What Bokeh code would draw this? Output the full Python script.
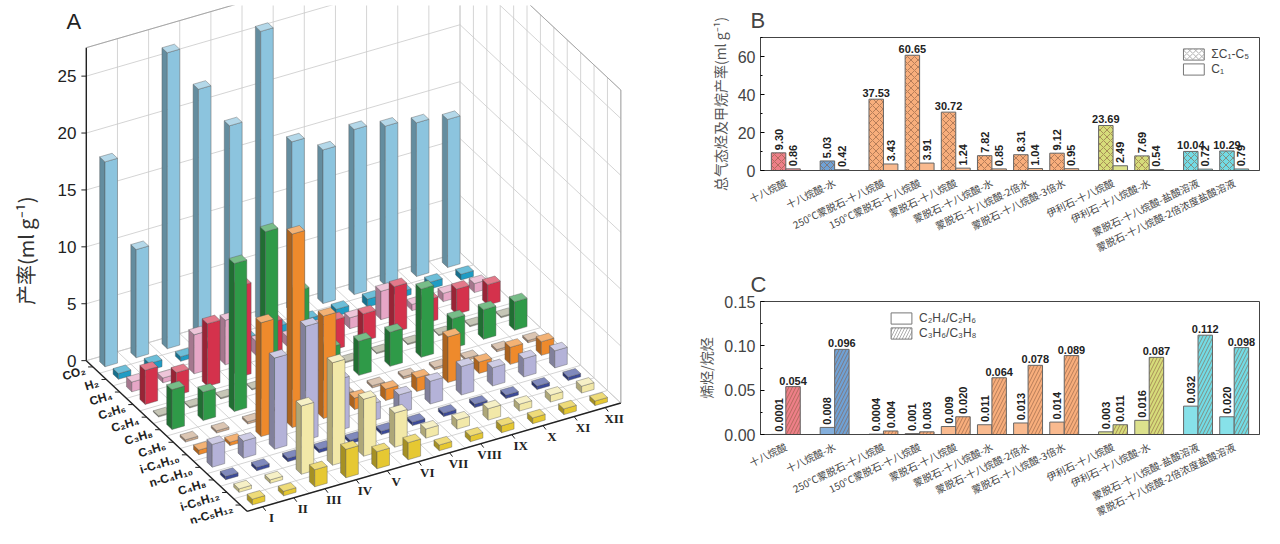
import numpy as np
from bokeh.plotting import figure
from bokeh.layouts import row, column
from bokeh.models import Range1d, FixedTicker, Legend, LegendItem, ColumnDataSource
from bokeh.embed import file_html
from bokeh.resources import INLINE
from bokeh.core.properties import value

# ---------------- data ----------------
exp_roman = ["I", "II", "III", "IV", "V", "VI", "VII", "VIII", "IX", "X", "XI", "XII"]
gases = ["CO₂", "H₂", "CH₄", "C₂H₆", "C₂H₄", "C₃H₈", "C₃H₆", "i-C₄H₁₀", "n-C₄H₁₀", "C₄H₈", "i-C₅H₁₂", "n-C₅H₁₂"]
gas_colors = ["#8cc4de", "#1f9cc4", "#e6a6c6", "#d4324c", "#a8a890", "#2f9a48", "#c8a68a",
              "#ee8a2c", "#b4b2d8", "#3c4a98", "#f2e8a8", "#e6c832"]
co2 = [18, 9.5, 26, 22, 18, 25.5, 15, 13.5, 14.5, 14, 13.5, 13]
h2 = [0.5, 0.6, 0.4, 0.5, 0.4, 0.6, 0.5, 0.6, 0.7, 0.5, 0.6, 0.5]
ch4 = [0.86, 0.42, 3.43, 3.91, 1.24, 0.85, 1.04, 0.95, 2.49, 0.54, 0.72, 0.79]
c2h6 = [3.0, 2.0, 5.5, 8.0, 4.0, 2.5, 2.6, 2.4, 4.0, 2.0, 2.2, 1.8]
c2h4 = [0.1, 0.1, 0.1, 0.1, 0.1, 0.1, 0.1, 0.1, 0.1, 0.1, 0.1, 0.1]
c3h8 = [3.5, 2.5, 13, 15, 9, 3.2, 3.0, 3.0, 6.0, 2.6, 2.6, 2.5]
c3h6 = [0.2, 0.2, 0.2, 0.2, 0.2, 0.2, 0.2, 0.2, 0.2, 0.2, 0.2, 0.2]
ic4 = [0.4, 0.3, 10, 17, 9, 1.0, 1.0, 1.2, 4.0, 1.0, 1.5, 1.2]
nc4 = [2.0, 1.5, 8, 10, 4.5, 1.5, 1.6, 2.0, 2.5, 1.6, 1.6, 1.5]
c4h8 = [0.3, 0.3, 0.3, 0.3, 0.3, 0.3, 0.3, 0.3, 0.3, 0.3, 0.3, 0.3]
ic5 = [0.3, 0.3, 6.0, 9.0, 5.0, 3.0, 0.8, 0.8, 1.0, 0.6, 0.6, 0.6]
nc5 = [0.5, 0.4, 1.5, 2.5, 1.5, 1.5, 0.5, 0.5, 0.6, 0.5, 0.5, 0.4]
yields = [co2, h2, ch4, c2h6, c2h4, c3h8, c3h6, ic4, nc4, c4h8, ic5, nc5]
z_ticks = [0, 5, 10, 15, 20, 25]

cats = ["十八烷酸", "十八烷酸-水", "250°C蒙脱石-十八烷酸", "150°C蒙脱石-十八烷酸", "蒙脱石-十八烷酸",
        "蒙脱石-十八烷酸-水", "蒙脱石-十八烷酸-2倍水", "蒙脱石-十八烷酸-3倍水", "伊利石-十八烷酸",
        "伊利石-十八烷酸-水", "蒙脱石-十八烷酸-盐酸溶液", "蒙脱石-十八烷酸-2倍浓度盐酸溶液"]
total_c1c5 = [9.30, 5.03, 37.53, 60.65, 30.72, 7.82, 8.31, 9.12, 23.69, 7.69, 10.04, 10.29]
c1 = [0.86, 0.42, 3.43, 3.91, 1.24, 0.85, 1.04, 0.95, 2.49, 0.54, 0.72, 0.79]
ratio_c2 = [0.0001, 0.008, 0.0004, 0.001, 0.009, 0.011, 0.013, 0.014, 0.003, 0.016, 0.032, 0.020]
ratio_c3 = [0.054, 0.096, 0.004, 0.003, 0.020, 0.064, 0.078, 0.089, 0.011, 0.087, 0.112, 0.098]
group_colors = ["#ee7f88", "#6fa2d6", "#f8ae7c", "#f8ae7c", "#f8ae7c", "#f8ae7c", "#f8ae7c", "#f8ae7c",
                "#d6dc7a", "#d6dc7a", "#72dce6", "#72dce6"]
xpos = [0, 1.35, 2.7, 3.7, 4.7, 5.7, 6.7, 7.7, 9.05, 10.05, 11.4, 12.4]

CJK = "Noto Sans CJK SC"

# ---------------- panel A (3D projection) ----------------
W_A, H_A = 690, 528
pa = figure(width=W_A, height=H_A, output_backend="svg", toolbar_location=None,
            x_range=Range1d(0, W_A), y_range=Range1d(H_A, 0))
pa.axis.visible = False
pa.grid.visible = False
pa.outline_line_color = None

O = np.array([82.0, 362.0])
EX = np.array([31.6, -9.2])
EG = np.array([13.6, 12.8])
EZ = np.array([0.0, -11.6])
NI, NJ, ZMAX = 12, 12.0, 27.5

def P(i, j, z):
    v = O + EX * i + EG * j + EZ * z
    return float(v[0]), float(v[1])

gx, gy = [], []
def seg(a, b):
    gx.append([a[0], b[0]]); gy.append([a[1], b[1]])
for i in range(NI + 1):
    seg(P(i, 0, 0), P(i, NJ, 0)); seg(P(i, 0, 0), P(i, 0, ZMAX))
for j in range(int(NJ) + 1):
    seg(P(0, j, 0), P(NI, j, 0)); seg(P(NI, j, 0), P(NI, j, ZMAX))
for z in z_ticks + [ZMAX]:
    seg(P(0, 0, z), P(NI, 0, z)); seg(P(NI, 0, z), P(NI, NJ, z))
pa.multi_line(gx, gy, line_color="#c9c9c9", line_width=0.8)
ex_, ey_ = [], []
for a, b in [((0, 0, 0), (0, 0, ZMAX)), ((0, 0, 0), (0, NJ, 0)), ((0, NJ, 0), (NI, NJ, 0)),
             ((NI, NJ, 0), (NI, NJ, ZMAX)), ((0, 0, ZMAX), (NI, 0, ZMAX)), ((NI, 0, ZMAX), (NI, NJ, ZMAX))]:
    pa_, pb_ = P(*a), P(*b)
    ex_.append([pa_[0], pb_[0]]); ey_.append([pa_[1], pb_[1]])
pa.multi_line(ex_[:3], ey_[:3], line_color="#222222", line_width=1.4)
pa.multi_line(ex_[3:], ey_[3:], line_color="#9a9a9a", line_width=0.8)

def shade(hexc, f):
    r, g, b = int(hexc[1:3], 16), int(hexc[3:5], 16), int(hexc[5:7], 16)
    if f >= 1:
        r, g, b = [int(c + (255 - c) * (f - 1)) for c in (r, g, b)]
    else:
        r, g, b = [int(c * f) for c in (r, g, b)]
    return "#%02x%02x%02x" % (r, g, b)

bars = []
for j, vals in enumerate(yields):
    for i, h in enumerate(vals):
        bars.append((-13.5 * (i + 0.5) + 31.7 * (j + 0.5), i, j, h))
bars.sort()
xs, ys, cols = [], [], []
w = 0.2
for _, i, j, h in bars:
    ci, cj = i + 0.5, j + 0.5
    c = gas_colors[j]
    faces = [
        ([(ci - w, cj - w, 0), (ci - w, cj + w, 0), (ci - w, cj + w, h), (ci - w, cj - w, h)], shade(c, 0.72)),
        ([(ci - w, cj + w, 0), (ci + w, cj + w, 0), (ci + w, cj + w, h), (ci - w, cj + w, h)], c),
        ([(ci - w, cj - w, h), (ci + w, cj - w, h), (ci + w, cj + w, h), (ci - w, cj + w, h)], shade(c, 1.35)),
    ]
    for pts, col in faces:
        pp = [P(*q) for q in pts]
        xs.append([q[0] for q in pp]); ys.append([q[1] for q in pp]); cols.append(col)
pa.patches(xs, ys, fill_color=cols, line_color="#555555", line_width=0.4)

for z in z_ticks:
    x, y = P(0, 0, z)
    pa.text([x - 10], [y], text=[str(z)], text_align="right", text_baseline="middle",
            text_font_size="17px", text_font=value("Liberation Sans"), text_color="#222222")
    pa.segment([x - 5], [y], [x], [y], line_color="#222222")
for j, g in enumerate(gases):
    x, y = P(0, j + 0.5, 0)
    pa.text([x - 8], [y + 3], text=[g], text_align="right", text_baseline="middle", angle=0.3,
            text_font_size="12px", text_font_style="bold", text_font=value("Liberation Sans"), text_color="#222222")
    pa.segment([x - 5], [y], [x], [y], line_color="#222222")
for i, r in enumerate(exp_roman):
    x, y = P(i + 0.5, NJ, 0)
    pa.text([x + 9], [y + 11], text=[r], text_align="center", text_baseline="middle",
            text_font_size="13px", text_font_style="bold", text_font=value("Liberation Serif"), text_color="#222222")
    pa.segment([x], [y], [x + 3], [y + 4], line_color="#222222")
pa.text([20], [250], text=["产率(ml g⁻¹)"], angle=np.pi / 2, text_align="center", text_baseline="middle",
        text_font_size="20px", text_font=value(CJK), text_color="#333333")
pa.text([62], [16], text=["A"], text_align="left", text_baseline="middle",
        text_font_size="22px", text_font=value("Liberation Sans"), text_color="#222222")

# ---------------- panels B and C ----------------
def bar_panel(letter, vals1, vals2, hatch1, hatch2, ymax, yticks, ylabel, fmt1, fmt2, horiz_thr, legend_labels, height, hatch_first):
    p = figure(width=574, height=height, output_backend="svg", toolbar_location=None,
               x_range=Range1d(-0.7, 13.1), y_range=Range1d(0, ymax), min_border_left=70, min_border_top=36)
    p.grid.visible = False
    p.outline_line_color = "#444444"
    src = ColumnDataSource(dict(x1=[x - 0.2 for x in xpos], x2=[x + 0.2 for x in xpos], v1=vals1, v2=vals2,
                                c=group_colors, c2=[shade(c, 1.15) for c in group_colors]))
    p.vbar(x="x1", top="v1", width=0.4, source=src, fill_color="c" if hatch_first else "c2", line_color="#666666",
           hatch_pattern=hatch1, hatch_color="#8a5a40" if hatch1 else None, hatch_scale=7, hatch_weight=0.6)
    p.vbar(x="x2", top="v2", width=0.4, source=src, fill_color="c2" if hatch_first else "c", line_color="#666666",
           hatch_pattern=hatch2, hatch_color="#8a5a40" if hatch2 else None, hatch_scale=7, hatch_weight=0.6)
    for xs_, vs, fmt in ((src.data["x1"], vals1, fmt1), (src.data["x2"], vals2, fmt2)):
        for x, v in zip(xs_, vs):
            t = fmt(v)
            if v >= horiz_thr:
                p.text([x], [v + ymax * 0.015], text=[t], text_align="center", text_baseline="bottom",
                       text_font_size="11px", text_font_style="bold", text_font=value("Liberation Sans"), text_color="#222")
            else:
                p.text([x], [v + ymax * 0.02], text=[t], angle=np.pi / 2, text_align="left", text_baseline="middle",
                       text_font_size="11px", text_font_style="bold", text_font=value("Liberation Sans"), text_color="#222")
    p.xaxis.ticker = FixedTicker(ticks=xpos)
    p.xaxis.major_label_overrides = {x: c for x, c in zip(xpos, cats)}
    p.xaxis.major_label_orientation = 0.45
    p.xaxis.major_label_text_font = CJK
    p.xaxis.major_label_text_font_size = "10px"
    p.xaxis.major_label_text_color = "#444"
    p.xaxis.major_tick_line_color = None
    p.xaxis.minor_tick_line_color = None
    p.yaxis.ticker = FixedTicker(ticks=yticks, minor_ticks=[yticks[1] / 2 + t for t in yticks])
    p.yaxis.major_label_text_font = "Liberation Sans"
    p.yaxis.major_label_text_font_size = "16px"
    p.yaxis.axis_label = ylabel
    p.yaxis.axis_label_text_font = CJK
    p.yaxis.axis_label_text_font_size = "14px"
    p.yaxis.axis_label_text_font_style = "normal"
    p.yaxis.axis_label_text_color = "#555"
    p.yaxis.major_tick_in = 4
    p.yaxis.major_tick_out = 0
    p.yaxis.minor_tick_in = 2
    p.yaxis.minor_tick_out = 0
    p.axis.axis_line_color = "#444444"
    r1 = p.vbar(x=[-10], top=[0], width=0.1, fill_color="white", line_color="#777", hatch_pattern=hatch1 if hatch1 else " ",
                hatch_color="#777", hatch_scale=6, hatch_weight=0.6)
    r2 = p.vbar(x=[-10], top=[0], width=0.1, fill_color="white", line_color="#777", hatch_pattern=hatch2 if hatch2 else " ",
                hatch_color="#777", hatch_scale=6, hatch_weight=0.6)
    leg = Legend(items=[LegendItem(label=legend_labels[0], renderers=[r1]), LegendItem(label=legend_labels[1], renderers=[r2])],
                 location="top_right" if letter == "B" else "top_left", background_fill_alpha=0, border_line_color=None,
                 label_text_font="Liberation Sans", label_text_font_size="12px", glyph_width=26, glyph_height=14,
                 spacing=1, margin=10)
    if letter == "C":
        leg.margin = 0
        leg.padding = 2
        leg.location = (128, 94)
    p.add_layout(leg)
    p.title.text = letter
    p.title.text_font = "Liberation Sans"
    p.title.text_font_size = "22px"
    p.title.text_font_style = "normal"
    p.title.offset = -10
    return p

pb = bar_panel("B", total_c1c5, c1, "x", None, 70, [0, 20, 40, 60], "总气态烃及甲烷产率(ml g⁻¹)",
               lambda v: "%.2f" % v, lambda v: "%.2f" % v, 10, ["ΣC₁-C₅", "C₁"], 264, True)
pc = bar_panel("C", ratio_c2, ratio_c3, None, "/", 0.15, [0, 0.05, 0.10, 0.15], "烯烃/烷烃",
               lambda v: ("%.4f" % v) if v < 0.001 else "%.3f" % v, lambda v: "%.3f" % v, 0.05,
               ["C₂H₄/C₂H₆", "C₃H₆/C₃H₈"], 264, False)
pc.yaxis.major_label_overrides = {0: "0.00", 0.05: "0.05", 0.10: "0.10", 0.15: "0.15"}

layout = row(pa, column(pb, pc))
open("out.html", "w").write(file_html(layout, INLINE))
